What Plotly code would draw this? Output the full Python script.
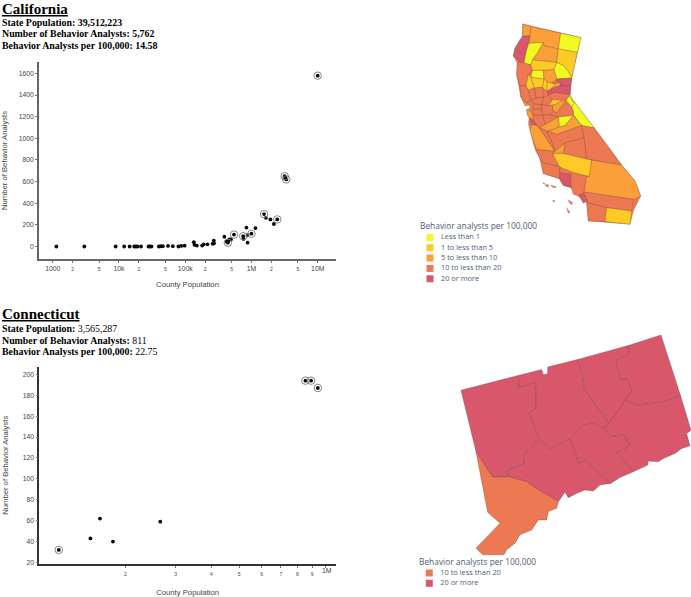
import plotly.graph_objects as go

W, H = 691, 597
PLASMA = ["#f0f921", "#fdca26", "#fb9f3a", "#ed7953", "#d8576b"]
CA_LEGEND = ["Less than 1", "1 to less than 5", "5 to less than 10", "10 to less than 20", "20 or more"]
CT_LEGEND = ["10 to less than 20", "20 or more"]
LEGEND_TITLE = "Behavior analysts per 100,000"

ca_pop = [1135, 3000, 8900, 12000, 14500, 17000, 18000, 19000, 21500, 28000, 29000, 31000, 40000, 43000, 46000,
          55000, 65000, 79000, 87000, 98000, 135000, 138000, 150000, 180000, 190000, 217000, 260000, 270000, 272000,
          390000, 420000, 440000, 450000, 465000, 490000, 545000, 750000, 760000, 840000, 870000, 875000, 1000000,
          1150000, 1550000, 1650000, 1930000, 2180000, 2450000, 3170000, 3220000, 3350000, 10000000]
ca_analysts = [0, 0, 0, 0, 0, 0, 0, 0, 0, 0, 0, 0, 0, 2, 3, 5, 3, 0, 5, 7, 40, 15, 8, 8, 20, 20, 25, 55, 30,
               90, 45, 35, 50, 65, 65, 110, 95, 70, 175, 105, 35, 118, 170, 300, 265, 250, 208, 250, 650, 635, 620, 1580]
ca_ringed = [440000, 545000, 750000, 1000000, 1550000, 2450000, 3170000, 3350000, 10000000]

ct_pop = [117000, 151000, 163000, 181000, 265000, 853000, 893000, 943000]
ct_analysts = [32, 43, 62, 40, 59, 194, 194, 187]
ct_ringed = [117000, 853000, 893000, 943000]

ca_xticks = [1000, 2000, 5000, 10000, 20000, 50000, 100000, 200000, 500000, 1000000, 2000000, 5000000, 10000000]
ca_xlabels = ["1000", "2", "5", "10k", "2", "5", "100k", "2", "5", "1M", "2", "5", "10M"]
ca_yticks = [0, 200, 400, 600, 800, 1000, 1200, 1400, 1600]
ct_xticks = [200000, 300000, 400000, 500000, 600000, 700000, 800000, 900000, 1000000]
ct_xlabels = ["2", "3", "4", "5", "6", "7", "8", "9", ""]
ct_yticks = [20, 40, 60, 80, 100, 120, 140, 160, 180, 200]

# County outlines in map units, with the legend class of each county
ca_land = [(368,72),(543,113),(515,235),(510,290),(583,385),(665,497),(705,545),(722,590),(700,635),(690,675),
           (565,665),(560,610),(535,590),(512,565),(490,558),(478,538),(430,522),(420,478),(405,450),(390,395),
           (385,372),(388,355),(382,345),(380,330),(390,325),(388,315),(375,318),(362,290),(350,225),(352,190),
           (340,168),(345,145),(368,108)]
del_norte = [(368,72),(392,80),(390,108),(368,108)]
siskiyou = [(392,80),(482,100),(475,147),(432,138),(430,128),(405,130),(387,130),(390,108)]
modoc = [(482,100),(543,113),(532,158),(475,147)]
humboldt = [(368,108),(390,108),(380,150),(372,190),(358,187),(340,168),(345,145)]
trinity = [(387,130),(405,130),(430,128),(412,160),(398,180),(392,195),(372,190),(380,150)]
shasta = [(432,138),(475,147),(470,188),(398,180),(412,160),(430,128)]
lassen = [(475,147),(532,158),(515,235),(505,215),(490,197),(470,188)]
tehama = [(398,180),(470,188),(462,210),(430,212),(397,212),(392,195)]
plumas = [(470,188),(490,197),(505,215),(515,235),(470,238),(462,210)]
glenn = [(397,212),(430,212),(432,238),(393,233)]
mendocino = [(352,190),(358,187),(372,190),(392,195),(397,212),(385,225),(378,258),(360,258),(350,225)]
butte = [(430,212),(462,210),(470,238),(455,250),(442,247),(432,238)]
sierra = [(470,238),(515,235),(512,258),(480,258),(480,250),(470,248)]
lake = [(385,225),(393,233),(403,265),(385,272),(378,258)]
colusa = [(393,233),(432,238),(428,263),(403,265)]
sutter = [(432,238),(442,247),(440,275),(428,263)]
yuba = [(442,247),(455,250),(468,252),(452,268),(440,275)]
nevada = [(455,250),(470,248),(480,250),(480,258),(460,265),(452,268),(468,252)]
placer = [(440,275),(452,268),(460,265),(480,258),(512,258),(510,285),(465,278),(445,287)]
sonoma = [(360,258),(378,258),(385,272),(393,303),(378,310),(362,290)]
marin = [(362,290),(378,310),(388,315),(375,318)]
napa = [(385,272),(403,265),(408,295),(393,303)]
yolo = [(403,265),(428,263),(432,292),(408,295)]
solano = [(393,303),(408,295),(432,292),(425,315),(400,313)]
sacramento = [(432,292),(445,287),(458,298),(445,318),(425,315)]
el_dorado = [(445,287),(465,278),(510,285),(498,303),(458,302)]
amador = [(458,300),(488,302),(465,315),(445,318)]
alpine = [(498,303),(510,285),(523,312),(515,322)]
mono = [(510,290),(583,385),(545,378),(520,345),(520,335),(515,322),(523,312)]
contra_costa = [(400,313),(425,315),(425,328),(400,330)]
alameda = [(400,330),(425,328),(428,347),(398,347)]
san_joaquin = [(425,315),(445,318),(458,316),(460,335),(450,345),(428,347)]
stanislaus = [(428,347),(450,345),(475,352),(435,375)]
santa_clara = [(398,347),(428,347),(435,375),(418,385),(400,362)]
san_mateo = [(380,330),(393,335),(398,347),(400,362),(388,355),(382,345)]
santa_cruz = [(388,355),(400,362),(410,378),(395,375)]
calaveras = [(465,315),(488,302),(498,303),(470,340),(460,335),(458,316)]
tuolumne = [(498,303),(515,322),(520,335),(520,348),(475,352),(450,345),(460,335),(470,340)]
mariposa = [(475,352),(520,348),(495,378),(478,382)]
merced = [(435,375),(475,352),(478,382),(445,395),(418,385)]
madera = [(478,382),(495,378),(520,348),(545,378),(470,405),(445,395)]
fresno = [(445,395),(470,405),(545,378),(552,415),(495,430),(465,455),(455,428),(440,395)]
inyo = [(545,378),(583,385),(665,497),(575,482),(560,478),(552,415)]
tulare = [(495,430),(552,415),(560,478),(490,462)]
kings = [(465,455),(495,430),(490,462),(458,462)]
monterey = [(390,395),(395,375),(410,378),(418,385),(445,425),(465,455),(458,455),(410,450)]
san_benito = [(418,385),(440,395),(455,428),(465,455),(445,425)]
san_luis_obispo = [(410,450),(458,455),(458,462),(480,500),(430,490),(420,478)]
kern = [(458,462),(490,462),(575,482),(568,532),(520,520),(480,505)]
santa_barbara = [(430,490),(480,503),(478,538),(430,522),(420,478)]
ventura = [(480,520),(512,525),(513,562),(490,558),(478,538)]
los_angeles = [(480,503),(520,520),(568,532),(560,530),(552,578),(535,590),(520,585),(513,562),(512,525),(480,520)]
san_bernardino = [(575,482),(665,497),(705,545),(722,590),(700,600),(552,578),(560,530),(568,532)]
orange = [(535,586),(552,583),(562,605),(550,612)]
riverside = [(552,578),(700,600),(695,635),(620,625),(565,610)]
san_diego = [(560,610),(620,625),(615,667),(565,665)]
imperial = [(620,625),(695,635),(690,675),(615,667)]
island_a = [(428,550),(435,552),(433,555)]
island_b = [(437,555),(447,557),(445,562),(438,561)]
island_c = [(452,557),(462,560),(470,563),(460,565)]
island_d = [(458,602),(465,605),(460,608)]
island_e = [(505,602),(518,610),(515,616),(508,610)]
island_f = [(500,625),(510,640),(505,642)]

ca_counties = [
    (ca_land, 3), (del_norte, 2), (siskiyou, 2), (modoc, 0), (humboldt, 4), (trinity, 0), (shasta, 2), (lassen, 1),
    (tehama, 1), (plumas, 0), (glenn, 0), (mendocino, 3), (butte, 2), (sierra, 4), (lake, 1), (colusa, 1),
    (sutter, 1), (yuba, 1), (nevada, 2), (placer, 4), (sonoma, 3), (marin, 2), (napa, 3), (yolo, 3), (solano, 3),
    (sacramento, 3), (el_dorado, 3), (amador, 1), (alpine, 0), (mono, 0), (contra_costa, 3), (alameda, 3),
    (san_joaquin, 3), (stanislaus, 3), (santa_clara, 3), (san_mateo, 2), (santa_cruz, 4), (calaveras, 2),
    (tuolumne, 3), (mariposa, 0), (merced, 2), (madera, 2), (fresno, 3), (inyo, 3), (tulare, 3), (kings, 2),
    (monterey, 2), (san_benito, 3), (san_luis_obispo, 3), (kern, 1), (santa_barbara, 3), (los_angeles, 3),
    (ventura, 4), (san_bernardino, 2), (riverside, 3), (orange, 4), (san_diego, 3), (imperial, 1),
    (island_a, 3), (island_b, 3), (island_c, 3), (island_d, 3), (island_e, 3), (island_f, 3),
]

litchfield = [(183,215),(355,170),(357,205),(407,190),(408,270),(387,285),(418,358),(370,412),(373,435),(320,458),
              (325,475),(278,477),(228,400)]
hartford = [(355,170),(425,152),(430,168),(443,165),(443,145),(533,122),(547,165),(552,210),(628,315),(612,328),
            (575,312),(545,322),(510,362),(447,393),(418,358),(387,285),(408,270),(407,190),(357,205)]
tolland = [(533,122),(685,80),(688,105),(648,125),(662,183),(680,178),(697,215),(628,315),(552,210),(547,165)]
windham = [(685,80),(783,48),(842,232),(785,250),(710,260),(675,243),(697,215),(680,178),(662,183),(648,125),(688,105)]
new_london = [(675,243),(710,260),(785,250),(842,232),(873,335),(860,345),(870,382),(845,390),(825,405),(790,420),
              (775,430),(745,428),(743,440),(700,460),(650,402),(690,383),(672,348),(630,355),(612,328),(628,315)]
middlesex = [(510,362),(545,322),(575,312),(612,328),(630,355),(672,348),(690,383),(650,402),(700,460),(660,477),
             (632,495),(555,427),(535,435),(525,400)]
new_haven = [(418,358),(447,393),(510,362),(525,400),(535,435),(555,427),(632,495),(600,500),(580,518),(555,515),
             (530,525),(505,538),(495,522),(475,550),(400,505),(380,490),(325,475),(320,458),(373,435),(370,412)]
fairfield = [(228,400),(278,477),(325,475),(380,490),(400,505),(475,550),(470,570),(445,580),(440,605),(415,605),
             (395,635),(360,650),(345,675),(320,695),(312,710),(248,710),(228,690),(300,615),(263,582)]
ct_counties = [(litchfield, 4), (hartford, 4), (tolland, 4), (windham, 4), (new_london, 4), (middlesex, 4),
               (new_haven, 4), (fairfield, 3)]


def dx(a, b):
    return [a / W, b / W]


def dy(top, bottom):
    return [1 - bottom / H, 1 - top / H]


fig = go.Figure()


def scatter_panel(pop, analysts, ringed, xa, ya):
    fig.add_trace(go.Scatter(x=pop, y=analysts, mode="markers", xaxis=xa, yaxis=ya,
                             marker=dict(color="#0a0a0a", size=3.8), hoverinfo="x+y"))
    rx = [p for p in pop if p in ringed]
    ry = [v for p, v in zip(pop, analysts) if p in ringed]
    fig.add_trace(go.Scatter(x=rx, y=ry, mode="markers", xaxis=xa, yaxis=ya, hoverinfo="skip",
                             marker=dict(color="rgba(0,0,0,0)", size=7.5, line=dict(color="#777", width=0.9))))


def draw_map(counties, xa, ya, edge):
    for poly, cat in counties:
        xs = [p[0] for p in poly] + [poly[0][0]]
        ys = [p[1] for p in poly] + [poly[0][1]]
        fig.add_trace(go.Scatter(x=xs, y=ys, mode="lines", fill="toself", fillcolor=PLASMA[cat], xaxis=xa, yaxis=ya,
                                 line=dict(color=edge, width=0.5), hoverinfo="skip"))


def draw_key(names, colors, xa, ya):
    rows = list(range(len(names)))
    fig.add_trace(go.Scatter(x=[0] * len(names), y=rows, mode="markers", xaxis=xa, yaxis=ya, hoverinfo="skip",
                             marker=dict(symbol="square", size=7, color=colors)))
    fig.add_trace(go.Scatter(x=[11] * len(names), y=rows, mode="text", text=names, textposition="middle right",
                             xaxis=xa, yaxis=ya, hoverinfo="skip",
                             textfont=dict(family="Open Sans", size=7.4, color="#4f5d75")))


scatter_panel(ca_pop, ca_analysts, ca_ringed, "x", "y")
scatter_panel(ct_pop, ct_analysts, ct_ringed, "x2", "y2")
draw_map(ca_counties, "x3", "y3", "rgba(90,70,60,0.5)")
draw_map(ct_counties, "x4", "y4", "rgba(90,50,60,0.6)")
draw_key(CA_LEGEND, PLASMA, "x5", "y5")
draw_key(CT_LEGEND, PLASMA[3:], "x6", "y6")

SANS = "Liberation Sans"
SERIF = "Liberation Serif"


def tick_labels(labels):
    return [t if len(t) > 1 else f'<span style="font-size:5px">{t}</span>' for t in labels]


def x_axis(domain, rng, vals, labels, overlay_y, standoff, line):
    return dict(type="log", domain=domain, range=rng, anchor=overlay_y, showgrid=False, zeroline=False,
                tickvals=vals, ticktext=tick_labels(labels), ticks="outside", ticklen=2, tickcolor="#777",
                tickwidth=0.7, showline=True, linecolor=line, linewidth=1.6,
                tickfont=dict(family=SANS, size=6.8, color="#444"), tickangle=0,
                title=dict(text="County Population", font=dict(family=SANS, size=7.7, color="#444"),
                           standoff=standoff))


def y_axis(domain, rng, vals, overlay_x, standoff, line):
    return dict(domain=domain, range=rng, anchor=overlay_x, showgrid=False, zeroline=False,
                tickvals=vals, ticks="outside", ticklen=2, tickcolor="#777", tickwidth=0.7,
                showline=True, linecolor=line, linewidth=1.6,
                tickfont=dict(family=SANS, size=6.8, color="#444"),
                title=dict(text="Number of Behavior Analysts", font=dict(family=SANS, size=7.7, color="#444"),
                           standoff=standoff))


def hidden(domain, rng):
    return dict(domain=domain, range=rng, visible=False, fixedrange=True)


def header(text, y, size):
    return dict(text=text, xref="paper", yref="paper", x=0, y=1 - y / H, xanchor="left", yanchor="middle",
                showarrow=False, align="left", font=dict(family=SERIF, size=size, color="#000"))


def key_title(x, y):
    return dict(text=LEGEND_TITLE, xref="paper", yref="paper", x=x / W, y=1 - y / H, xanchor="left",
                yanchor="middle", showarrow=False, font=dict(family="Open Sans", size=8.4, color="#4f5d75"))


fig.update_layout(
    width=W, height=H, margin=dict(l=0, r=0, t=0, b=0), showlegend=False,
    paper_bgcolor="white", plot_bgcolor="white",
    xaxis=x_axis(dx(39, 336), [2.793, 7.276], ca_xticks, ca_xlabels, "y", 11, "#666"),
    yaxis=y_axis(dy(62, 260), [-117, 1708], ca_yticks, "x", 11, "#666"),
    xaxis2=x_axis(dx(39.3, 336), [5.0, 6.038], ct_xticks, ct_xlabels, "y2", 15, "#333"),
    yaxis2=y_axis(dy(368, 565.7), [18.7, 207.3], ct_yticks, "x2", 13, "#333"),
    xaxis3=hidden(dx(400, 691), [0, 873]),
    yaxis3=hidden(dy(0, 295), [885, 0]),
    xaxis4=hidden(dx(400, 691), [0, 873]),
    yaxis4=hidden(dy(320, 597), [831, 0]),
    xaxis5=hidden(dx(420, 540), [-10, 110]),
    yaxis5=hidden(dy(233, 284.9), [4.5, -0.5]),
    xaxis6=hidden(dx(419.3, 539.3), [-10, 110]),
    yaxis6=hidden(dy(569.8, 590.5), [1.5, -0.5]),
    annotations=[
        header("<b><u>California</u></b>", 9, 15),
        header("<b>State Population: 39,512,223</b>", 22.5, 9.9),
        header("<b>Number of Behavior Analysts: 5,762</b>", 34, 9.9),
        header("<b>Behavior Analysts per 100,000: 14.58</b>", 46, 9.9),
        header("<b><u>Connecticut</u></b>", 315.5, 15),
        header("<b>State Population:</b> 3,565,287", 330, 9.9),
        header("<b>Number of Behavior Analysts:</b> 811", 341.5, 9.9),
        header("<b>Behavior Analysts per 100,000:</b> 22.75", 353, 9.9),
        key_title(418, 226),
        key_title(417.3, 563.7),
        dict(text="1M", xref="x2", yref="paper", x=6, y=1 - 578 / H, xshift=2, showarrow=False,
             font=dict(family=SANS, size=6.8, color="#444")),
    ],
)

fig.write_html("out.html", config=dict(displayModeBar=False),
               post_script="document.body.style.margin='0';")
